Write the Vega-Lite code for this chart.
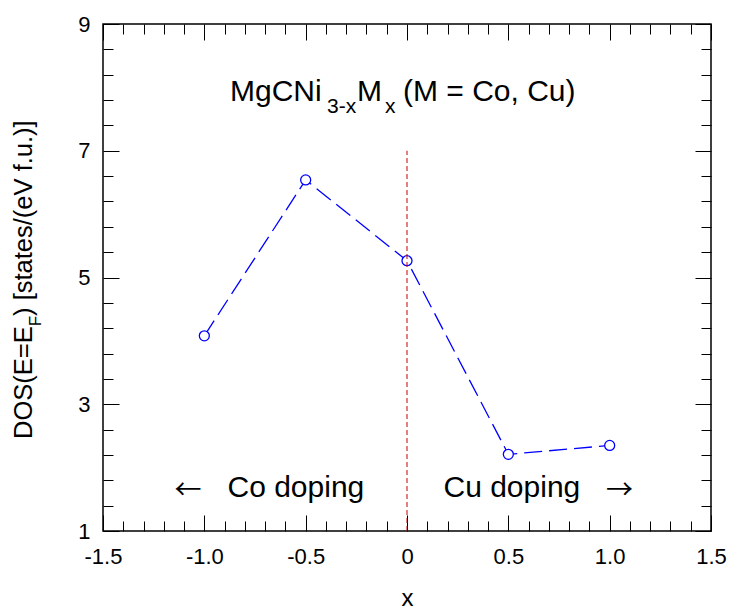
{
  "$schema": "https://vega.github.io/schema/vega-lite/v6.json",
  "width": 608,
  "height": 507,
  "autosize": {"type": "none"},
  "padding": {"left": 103, "top": 24, "right": 19, "bottom": 85},
  "config": {
    "font": "Liberation Sans",
    "view": {"stroke": "#000000", "strokeWidth": 1.5},
    "axis": {"grid": false, "domain": false, "tickColor": "#000000", "tickWidth": 1, "labelColor": "#000000", "titleColor": "#000000", "titleFontWeight": "normal", "labelFont": "Liberation Sans", "titleFont": "Liberation Sans"}
  },
  "datasets": {
    "dos": [
      {"x": -1.0, "dos": 4.08},
      {"x": -0.5, "dos": 6.54},
      {"x": 0.0, "dos": 5.265},
      {"x": 0.5, "dos": 2.21},
      {"x": 1.0, "dos": 2.35}
    ],
    "vline": [{"x": 0, "y1": 1, "y2": 7}],
    "titleMain": [
      {"label": "MgCNi", "x": -0.8734, "y": 7.785},
      {"label": "M", "x": -0.2467, "y": 7.785},
      {"label": "(M = Co, Cu)", "x": -0.0198, "y": 7.785}
    ],
    "titleSub": [
      {"label": "3-x", "x": -0.3948, "y": 7.596},
      {"label": "x", "x": -0.1086, "y": 7.596}
    ],
    "doping": [
      {"label": "Co doping", "x": -0.8857, "y": 1.53},
      {"label": "Cu doping", "x": 0.18, "y": 1.53}
    ],
    "arrows": [
      {"label": "←", "x": -1.0806, "y": 1.63},
      {"label": "→", "x": 1.0485, "y": 1.63}
    ],
    "ytitleMain": [
      {"label": "DOS(E=E", "x": -1.85, "y": 2.452},
      {"label": ") [states/(eV f.u.)]", "x": -1.85, "y": 4.394}
    ],
    "ytitleSub": [
      {"label": "F", "x": -1.806, "y": 4.23}
    ]
  },
  "resolve": {"axis": {"x": "independent", "y": "independent"}},
  "layer": [
    {
      "data": {"name": "dos"},
      "mark": {"type": "line", "color": "#0000ff", "strokeWidth": 1.3, "strokeDash": [18, 7]},
      "encoding": {
        "x": {"field": "x", "type": "quantitative", "scale": {"domain": [-1.5, 1.5], "nice": false, "zero": false},
          "axis": {"orient": "bottom", "values": [-1.5, -1, -0.5, 0, 0.5, 1, 1.5], "tickSize": -16, "labelPadding": 31, "labelFontSize": 22,
            "labelExpr": "datum.value == 0 ? '0' : replace(format(datum.value, '.1f'), '−', '-')", "labelFlush": false, "labelOverlap": false,
            "title": "x", "titleFontSize": 24, "titlePadding": 19}},
        "y": {"field": "dos", "type": "quantitative", "scale": {"domain": [1, 9], "nice": false, "zero": false},
          "axis": {"orient": "left", "values": [1, 3, 5, 7, 9], "tickSize": -16, "labelPadding": 29, "labelFontSize": 22, "format": "d", "labelFlush": false, "labelOverlap": false, "title": null}}
      }
    },
    {
      "data": {"name": "dos"},
      "mark": {"type": "point", "shape": "circle", "filled": true, "fill": "#ffffff", "stroke": "#0000ff", "strokeWidth": 1.3, "size": 100, "opacity": 1},
      "encoding": {
        "x": {"field": "x", "type": "quantitative", "scale": {"domain": [-1.5, 1.5], "nice": false, "zero": false},
          "axis": {"orient": "bottom", "values": [-1.4, -1.3, -1.2, -1.1, -0.9, -0.8, -0.7, -0.6, -0.4, -0.3, -0.2, -0.1, 0.1, 0.2, 0.3, 0.4, 0.6, 0.7, 0.8, 0.9, 1.1, 1.2, 1.3, 1.4], "tickSize": -10, "labels": false, "title": null}},
        "y": {"field": "dos", "type": "quantitative", "scale": {"domain": [1, 9], "nice": false, "zero": false},
          "axis": {"orient": "left", "values": [1.4, 1.8, 2.2, 2.6, 3.4, 3.8, 4.2, 4.6, 5.4, 5.8, 6.2, 6.6, 7.4, 7.8, 8.2, 8.6], "tickSize": -10, "labels": false, "title": null}}
      }
    },
    {
      "data": {"name": "vline"},
      "mark": {"type": "rule", "color": "#cc0000", "strokeWidth": 1, "strokeDash": [5, 3]},
      "encoding": {
        "x": {"field": "x", "type": "quantitative", "scale": {"domain": [-1.5, 1.5], "nice": false, "zero": false},
          "axis": {"orient": "top", "values": [-1.5, -1, -0.5, 0, 0.5, 1, 1.5], "tickSize": -16, "labels": false, "title": null}},
        "y": {"field": "y1", "type": "quantitative", "scale": {"domain": [1, 9], "nice": false, "zero": false},
          "axis": {"orient": "right", "values": [1, 3, 5, 7, 9], "tickSize": -16, "labels": false, "title": null}},
        "y2": {"field": "y2"}
      }
    },
    {
      "data": {"name": "titleMain"},
      "mark": {"type": "text", "align": "left", "baseline": "alphabetic", "fontSize": 30, "font": "Liberation Sans", "color": "#000000"},
      "encoding": {
        "x": {"field": "x", "type": "quantitative", "scale": {"domain": [-1.5, 1.5], "nice": false, "zero": false},
          "axis": {"orient": "top", "values": [-1.4, -1.3, -1.2, -1.1, -0.9, -0.8, -0.7, -0.6, -0.4, -0.3, -0.2, -0.1, 0.1, 0.2, 0.3, 0.4, 0.6, 0.7, 0.8, 0.9, 1.1, 1.2, 1.3, 1.4], "tickSize": -10, "labels": false, "title": null}},
        "y": {"field": "y", "type": "quantitative", "scale": {"domain": [1, 9], "nice": false, "zero": false},
          "axis": {"orient": "right", "values": [1.4, 1.8, 2.2, 2.6, 3.4, 3.8, 4.2, 4.6, 5.4, 5.8, 6.2, 6.6, 7.4, 7.8, 8.2, 8.6], "tickSize": -10, "labels": false, "title": null}},
        "text": {"field": "label"}
      }
    },
    {
      "data": {"name": "titleSub"},
      "mark": {"type": "text", "align": "left", "baseline": "alphabetic", "fontSize": 21, "font": "Liberation Sans", "color": "#000000"},
      "encoding": {
        "x": {"field": "x", "type": "quantitative", "axis": null},
        "y": {"field": "y", "type": "quantitative", "axis": null},
        "text": {"field": "label"}
      }
    },
    {
      "data": {"name": "doping"},
      "mark": {"type": "text", "align": "left", "baseline": "alphabetic", "fontSize": 30, "font": "Liberation Sans", "color": "#000000"},
      "encoding": {
        "x": {"field": "x", "type": "quantitative", "axis": null},
        "y": {"field": "y", "type": "quantitative", "axis": null},
        "text": {"field": "label"}
      }
    },
    {
      "data": {"name": "arrows"},
      "mark": {"type": "text", "align": "center", "baseline": "middle", "fontSize": 27, "font": "Noto Sans CJK JP", "color": "#000000"},
      "encoding": {
        "x": {"field": "x", "type": "quantitative", "axis": null},
        "y": {"field": "y", "type": "quantitative", "axis": null},
        "text": {"field": "label"}
      }
    },
    {
      "data": {"name": "ytitleMain"},
      "mark": {"type": "text", "align": "left", "baseline": "alphabetic", "angle": 270, "fontSize": 25.5, "font": "Liberation Sans", "color": "#000000"},
      "encoding": {
        "x": {"field": "x", "type": "quantitative", "axis": null},
        "y": {"field": "y", "type": "quantitative", "axis": null},
        "text": {"field": "label"}
      }
    },
    {
      "data": {"name": "ytitleSub"},
      "mark": {"type": "text", "align": "left", "baseline": "alphabetic", "angle": 270, "fontSize": 17, "font": "Liberation Sans", "color": "#000000"},
      "encoding": {
        "x": {"field": "x", "type": "quantitative", "axis": null},
        "y": {"field": "y", "type": "quantitative", "axis": null},
        "text": {"field": "label"}
      }
    }
  ]
}
